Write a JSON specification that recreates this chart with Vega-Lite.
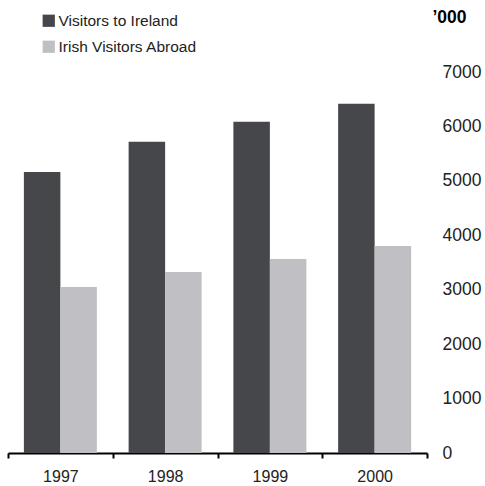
{
  "$schema": "https://vega.github.io/schema/vega-lite/v6.json",
  "autosize": "none",
  "width": 419,
  "height": 381,
  "padding": {"left": 8, "top": 72, "right": 58, "bottom": 33},
  "background": "white",
  "data": {
    "values": [
      {"year": "1997", "series": "Visitors to Ireland", "visitors": 5165},
      {"year": "1997", "series": "Irish Visitors Abroad", "visitors": 3051},
      {"year": "1998", "series": "Visitors to Ireland", "visitors": 5717},
      {"year": "1998", "series": "Irish Visitors Abroad", "visitors": 3327},
      {"year": "1999", "series": "Visitors to Ireland", "visitors": 6085},
      {"year": "1999", "series": "Irish Visitors Abroad", "visitors": 3566},
      {"year": "2000", "series": "Visitors to Ireland", "visitors": 6415},
      {"year": "2000", "series": "Irish Visitors Abroad", "visitors": 3805}
    ]
  },
  "mark": {"type": "bar"},
  "encoding": {
    "x": {
      "field": "year",
      "type": "nominal",
      "scale": {"paddingInner": 0, "paddingOuter": 0},
      "axis": {
        "title": null,
        "labelAngle": 0,
        "tickBand": "extent",
        "tickSize": 5,
        "tickWidth": 2,
        "tickColor": "#000000",
        "domainColor": "#000000",
        "domainWidth": 2,
        "labelBaseline": "middle",
        "labelPadding": 18,
        "labelFontSize": 16,
        "labelColor": "#222222"
      }
    },
    "xOffset": {
      "field": "series",
      "type": "nominal",
      "sort": ["Visitors to Ireland", "Irish Visitors Abroad"],
      "scale": {"paddingInner": 0, "paddingOuter": 0.435}
    },
    "y": {
      "field": "visitors",
      "type": "quantitative",
      "scale": {"domain": [0, 7000], "nice": false},
      "axis": {
        "orient": "right",
        "title": "’000",
        "titleAngle": 0,
        "titleX": 5,
        "titleY": -55,
        "titleAlign": "left",
        "titleBaseline": "middle",
        "titleFontSize": 17.5,
        "titleFontWeight": "bold",
        "titleColor": "#000000",
        "values": [0, 1000, 2000, 3000, 4000, 5000, 6000, 7000],
        "format": "d",
        "domain": false,
        "ticks": false,
        "grid": false,
        "labelPadding": 15,
        "labelFontSize": 17.5,
        "labelColor": "#222222"
      }
    },
    "color": {
      "field": "series",
      "type": "nominal",
      "scale": {
        "domain": ["Visitors to Ireland", "Irish Visitors Abroad"],
        "range": ["#46474b", "#c0bfc4"]
      },
      "legend": {
        "title": null,
        "orient": "none",
        "legendX": 33,
        "legendY": -59,
        "symbolType": "square",
        "symbolSize": 150,
        "symbolStrokeWidth": 0,
        "symbolOpacity": 1,
        "labelFontSize": 15.5,
        "labelColor": "#222222",
        "labelOffset": 2,
        "rowPadding": 9
      }
    }
  },
  "config": {
    "font": "Liberation Sans",
    "view": {"stroke": null}
  }
}
